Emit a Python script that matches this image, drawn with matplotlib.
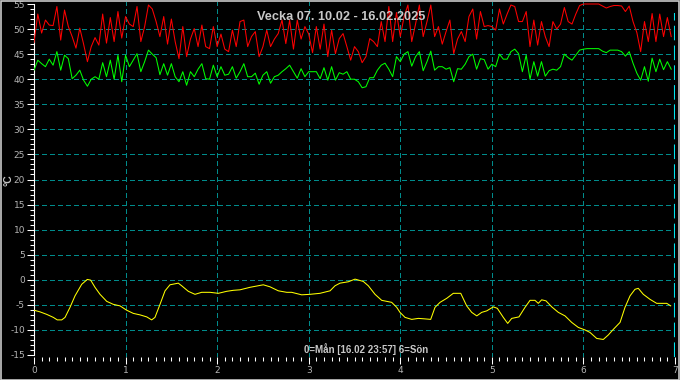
import numpy as np
import matplotlib
matplotlib.use("Agg")
import matplotlib.pyplot as plt
from matplotlib.patches import Rectangle

# ---------------- data ----------------
title = "Vecka 07. 10.02 - 16.02.2025"
footer = "0=Mån [16.02 23:57] 6=Sön"
ylabel = "°C"

# hourly samples (day index + hour/24)
hours_per_day = 24
red_values = [
    # day 0
    47.3, 53.0, 49.2, 51.8, 50.8, 50.7, 54.5, 47.8, 53.8, 50.5, 48.5, 46.2,
    50.2, 47.0, 43.5, 46.5, 48.3, 46.8, 53.0, 47.2, 52.3, 47.5, 53.5, 48.2,
    # day 1
    52.5, 51.0, 50.5, 54.5, 47.5, 50.5, 54.8, 54.0, 51.5, 48.5, 52.5, 47.0,
    52.0, 47.5, 44.1, 50.5, 44.5, 48.0, 50.1, 46.5, 50.8, 46.5, 46.1, 50.5,
    # day 2
    46.5, 49.0, 46.0, 45.5, 49.8, 46.5, 51.5, 51.8, 46.5, 48.5, 49.5, 44.5,
    46.5, 49.8, 46.5, 48.0, 49.1, 51.8, 47.1, 51.8, 46.0, 51.8, 48.0, 50.5,
    # day 3
    49.0, 45.3, 50.5, 46.0, 51.0, 44.5, 49.8, 45.1, 48.1, 49.1, 46.5, 43.8,
    46.5, 45.5, 43.3, 44.5, 48.1, 47.5, 46.5, 51.5, 47.5, 54.5, 47.5, 53.3,
    # day 4
    48.5, 52.5, 54.8, 47.5, 51.0, 54.8, 48.5, 51.5, 54.8, 48.5, 50.5, 47.0,
    49.5, 51.8, 45.1, 48.0, 49.5, 47.5, 52.5, 54.0, 48.0, 53.5, 50.5, 50.7,
    # day 5
    50.5, 49.8, 54.0, 51.0, 53.0, 54.8, 54.5, 51.5, 51.5, 53.5, 46.5, 51.8,
    46.8, 51.5, 48.5, 46.5, 51.5, 50.0, 51.0, 54.3, 51.5, 51.0, 53.0, 54.7,
    # day 6
    55.0, 55.0, 55.0, 55.0, 55.0, 54.6, 54.2, 54.5, 54.7, 54.7, 54.6, 53.5,
    54.6, 51.5, 49.3, 45.5, 51.5, 47.5, 53.1, 47.5, 53.0, 48.5, 52.3, 48.5,
]
green_values = [
    # day 0
    41.8, 43.8, 43.1, 42.5, 44.0, 42.8, 45.5, 41.8, 44.8, 44.1, 40.1, 40.8,
    41.8, 39.8, 38.6, 40.0, 40.5, 40.0, 43.3, 40.5, 43.8, 40.0, 44.8, 39.5,
    # day 1
    44.8, 42.5, 43.8, 45.1, 41.5, 43.5, 45.8, 45.0, 44.3, 40.9, 43.1, 40.8,
    43.1, 40.5, 39.5, 41.5, 38.8, 41.5, 40.5, 42.0, 43.1, 40.1, 40.0, 42.8,
    # day 2
    40.5, 42.5, 40.8, 41.0, 42.5, 40.2, 41.5, 43.1, 40.5, 40.5, 41.2, 39.0,
    40.8, 41.5, 39.2, 40.5, 40.8, 41.5, 42.1, 42.8, 41.5, 40.2, 42.1, 40.5,
    # day 3
    41.5, 41.5, 41.5, 40.1, 42.3, 39.8, 42.5, 39.8, 41.3, 41.0, 41.5, 40.0,
    40.0, 39.5, 38.3, 38.5, 40.3, 40.3, 41.8, 42.8, 43.2, 42.0, 40.5, 44.5,
    # day 4
    43.5, 45.0, 45.5, 42.6, 44.5, 45.5, 41.7, 43.5, 45.6, 41.8, 42.5, 42.5,
    42.0, 42.3, 39.5, 42.1, 42.0, 43.0, 44.5, 45.0, 42.0, 44.1, 43.9, 42.0,
    # day 5
    43.0, 42.5, 45.0, 44.0, 44.0, 45.5, 46.0, 45.1, 41.5, 44.8, 40.0, 43.5,
    40.6, 43.5, 40.6, 41.7, 42.0, 41.8, 42.5, 45.0, 44.3, 43.8, 44.8, 45.8,
    # day 6
    46.0, 46.1, 46.1, 46.1, 46.1, 45.6, 45.3, 45.8, 45.8, 45.8, 45.5, 44.6,
    45.5, 43.2, 41.2, 39.8, 42.5, 39.6, 44.2, 41.5, 44.0, 41.9, 43.5, 42.0,
]

# outdoor temperature: (day position, value) vertices
yellow_x = [0.000, 0.066, 0.139, 0.211, 0.254, 0.303, 0.339, 0.393, 0.448, 0.521,
            0.582, 0.619, 0.666, 0.721, 0.794, 0.866, 0.939, 1.012, 1.084, 1.158,
            1.231, 1.285, 1.321, 1.376, 1.431, 1.485, 1.576, 1.613, 1.685, 1.758,
            1.831, 1.922, 2.013, 2.104, 2.177, 2.250, 2.359, 2.504, 2.577, 2.668,
            2.760, 2.814, 2.923, 3.014, 3.123, 3.233, 3.287, 3.342, 3.432, 3.506,
            3.596, 3.651, 3.724, 3.797, 3.906, 3.961, 3.997, 4.052, 4.125, 4.197,
            4.270, 4.332, 4.379, 4.434, 4.507, 4.579, 4.660, 4.725, 4.780, 4.835,
            4.889, 4.944, 5.016, 5.060, 5.125, 5.173, 5.217, 5.296, 5.362, 5.417,
            5.471, 5.507, 5.544, 5.591, 5.654, 5.726, 5.799, 5.872, 5.944, 6.017,
            6.072, 6.145, 6.217, 6.272, 6.326, 6.400, 6.454, 6.509, 6.563, 6.599,
            6.654, 6.727, 6.800, 6.855, 6.910, 6.953]
yellow_values = [-6.07, -6.4, -6.9, -7.5, -8.0, -8.0, -7.5, -5.5, -3.2, -0.9,
                 0.07, -0.07, -1.5, -2.9, -4.3, -4.9, -5.2, -6.07, -6.7, -7.0,
                 -7.4, -8.0, -7.5, -4.9, -2.2, -1.0, -0.67, -1.2, -2.3, -2.9,
                 -2.5, -2.5, -2.7, -2.3, -2.1, -2.0, -1.5, -1.0, -1.4, -2.2,
                 -2.5, -2.5, -3.0, -2.9, -2.7, -2.2, -1.2, -0.67, -0.4, 0.13,
                 -0.33, -1.2, -2.9, -4.1, -4.5, -5.5, -6.5, -7.5, -7.9, -7.7,
                 -7.8, -7.9, -5.5, -4.5, -3.7, -2.7, -2.7, -5.2, -6.5, -7.2,
                 -6.5, -6.2, -5.4, -5.7, -7.5, -8.7, -7.7, -7.4, -5.5, -4.1,
                 -4.1, -4.7, -4.0, -4.2, -5.4, -6.5, -7.2, -8.5, -9.5, -10.0,
                 -10.5, -11.7, -11.9, -11.0, -9.9, -8.5, -5.5, -3.2, -1.9, -1.7,
                 -2.9, -3.9, -4.7, -4.7, -4.7, -5.2]

now_x = 6 + (23 + 57 / 60) / 24   # 16.02 23:57
x_ticks = [0, 1, 2, 3, 4, 5, 6, 7]
y_ticks = [-15, -10, -5, 0, 5, 10, 15, 20, 25, 30, 35, 40, 45, 50, 55]

# ---------------- figure ----------------
W, H = 680, 380
fig = plt.figure(figsize=(W / 100, H / 100), dpi=100, facecolor="black")
ax = fig.add_axes([34 / W, 1 - 357 / H, 641 / W, 355 / H], facecolor="black")

t_hours = np.arange(len(red_values)) / hours_per_day
ax.plot(t_hours, red_values, color="#ff0000", lw=0.75, zorder=3)
ax.plot(t_hours, green_values, color="#00ff00", lw=0.75, zorder=3)
ax.plot(yellow_x, yellow_values, color="#ffff00", lw=0.75, zorder=3)

ax.set_xlim(0, 7)
ax.set_ylim(-15.4, 55.4)

ax.set_xticks(x_ticks)
ax.set_xticks(np.arange(0, 7.001, 1 / 12), minor=True)
ax.set_yticks(y_ticks)
ax.set_yticks(np.arange(-15, 55.001, 1), minor=True)
ax.set_xticklabels([str(v) for v in x_ticks])
ax.set_yticklabels([str(v) for v in y_ticks])

label_color = "#b4b4b4"
ax.tick_params(axis="both", which="major", color="white", labelcolor=label_color,
               labelsize=6.5, width=0.75, direction="out")
ax.tick_params(axis="y", which="major", length=5, pad=1.5)
ax.tick_params(axis="y", which="minor", length=3, width=0.75, color="white")
ax.tick_params(axis="x", which="major", length=5, pad=1.5)
ax.tick_params(axis="x", which="minor", length=3, width=0.75, color="white")

for s in ["top", "right", "bottom"]:
    ax.spines[s].set_visible(False)
ax.spines["left"].set_color("white")
ax.spines["left"].set_linewidth(0.8)
ax.spines["left"].set_bounds(-15, 55)

ax.grid(False)
grid_color = "#008b8b"
grid_ls = (0, (5, 3))
for v in y_ticks:
    if -15 < v < 55:
        ax.axhline(v, color=grid_color, lw=0.72, linestyle=grid_ls,
                   antialiased=False, zorder=1)
for v in x_ticks:
    if 0 < v < 7:
        ax.axvline(v, color=grid_color, lw=0.72, linestyle=grid_ls,
                   antialiased=False, zorder=1)

# current time marker
ax.axvline(now_x, ymin=0.0, ymax=0.97, color="#00e5ee", lw=1.5,
           linestyle=(0, (7, 2.5)), zorder=4)

fig.text(341 / W, 1 - 17 / H, title, ha="center", va="center", color="#c8c8c8",
         fontsize=9.2, fontweight="bold", family="Liberation Sans")
fig.text(366 / W, 1 - 349 / H, footer, ha="center", va="center", color="#c8c8c8",
         fontsize=7, fontweight="bold", family="Liberation Sans")
fig.text(9 / W, 1 - 180 / H, ylabel, ha="center", va="center", color="#c8c8c8",
         fontsize=7.5, fontweight="bold", rotation=90, family="Liberation Sans")

fig.patches.append(Rectangle((0.5 / W, 0.5 / H), 1 - 1.5 / W, 1 - 1.5 / H,
                             transform=fig.transFigure, fill=False,
                             edgecolor="#c8c8c8", linewidth=1.2))

fig.savefig("out.png", dpi=100, facecolor="black")
